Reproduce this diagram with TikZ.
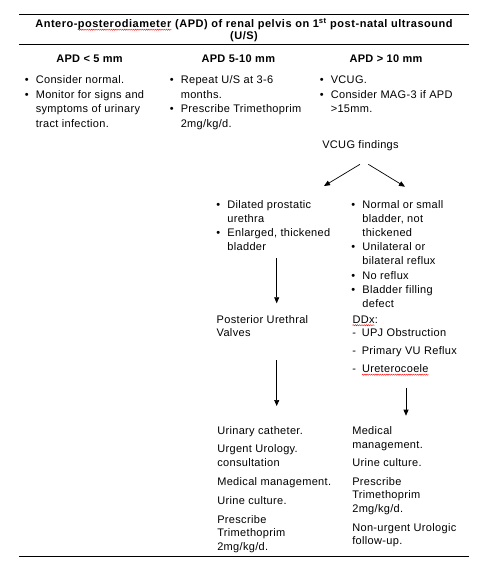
\documentclass[tikz,border=0pt]{standalone}
\usepackage{fontspec}
\usepackage{graphicx}
\setmainfont{Liberation Sans}[LetterSpace=3]
\usetikzlibrary{arrows.meta,decorations.pathmorphing}
\newcommand\bl{\makebox[11pt][l]{\textbullet}}
\newcommand\ind{\hspace*{11pt}}
\newcommand\dl{\makebox[9.5pt][l]{-}}
\newcommand\tb[1]{\begin{tabular}[t]{@{}l@{}}#1\end{tabular}}
\newcommand\tbc[1]{\begin{tabular}[t]{@{}c@{}}#1\end{tabular}}
\newcommand\sqg[1]{\tikz[baseline=(w.base)]{\node[inner sep=0pt,outer sep=0pt](w){#1};\draw[red,line width=0.4pt,decorate,decoration={snake,amplitude=0.6pt,segment length=2.2pt}] ([yshift=-2.2pt]w.base west)--([yshift=-2.2pt]w.base east);}}
\begin{document}
\begin{tikzpicture}[x=1pt,y=-1pt,
  txt/.style={inner sep=0pt,outer sep=0pt,font=\fontsize{11}{14.5}\selectfont},
  txtb/.style={inner sep=0pt,outer sep=0pt,font=\fontsize{11}{14.2}\selectfont},
  txtc/.style={inner sep=0pt,outer sep=0pt,font=\fontsize{11}{13.8}\selectfont},
  hd/.style={inner sep=0pt,outer sep=0pt,font=\bfseries\fontsize{11}{12}\selectfont},
  rulel/.style={line width=0.9pt},
  arr/.style={line width=0.7pt,-{Triangle[length=6pt,width=5pt]}}]
\useasboundingbox (0,0) rectangle (494,575);
% rules
\coordinate (r1a) at (19,14.3); \coordinate (r1b) at (469,14.3);
\coordinate (r2a) at (19,44.3); \coordinate (r2b) at (469,44.3);
\coordinate (r3a) at (19,556.7); \coordinate (r3b) at (468.5,556.7);
\draw[rulel] (r1a) -- (r1b);
\draw[rulel] (r2a) -- (r2b);
\draw[rulel] (r3a) -- (r3b);
% title
\node[hd,anchor=base,font=\bfseries\fontsize{11}{12}\selectfont\addfontfeatures{LetterSpace=4.8}] (title) at (244,27.5) {\tbc{Antero-\sqg{posterodiameter} (APD) of renal pelvis on 1\textsuperscript{st} post-natal ultrasound\\(U/S)}};
% headers
\node[hd,anchor=base] (h1) at (89.5,62.7) {APD < 5 mm};
\node[hd,anchor=base] (h2) at (238.3,62.7) {APD 5-10 mm};
\node[hd,anchor=base] (h3) at (386,62.7) {APD > 10 mm};
% column lists
\node[txt,anchor=base west] (c1) at (24.8,84) {\tb{\bl Consider normal.\\ \bl Monitor for signs and\\ \ind symptoms of urinary\\ \ind tract infection.}};
\node[txt,anchor=base west] (c2) at (169.8,84) {\tb{\bl Repeat U/S at 3-6\\ \ind months.\\ \bl Prescribe Trimethoprim\\ \ind 2mg/kg/d.}};
\node[txt,anchor=base west] (c3) at (319.8,84) {\tb{\bl VCUG.\\ \bl Consider MAG-3 if APD\\ \ind >15mm.}};
% VCUG findings
\node[txt,anchor=base west] (vf) at (322.3,148) {VCUG findings};
\coordinate (vfl) at (360,164.3); \coordinate (vl) at (324,186);
\coordinate (vfr) at (368.3,164.3); \coordinate (vr) at (405,186.7);
\draw[arr] (vfl) -- (vl);
\draw[arr] (vfr) -- (vr);
% findings
\node[txtb,anchor=base west] (fl) at (216.4,208) {\tb{\bl Dilated prostatic\\ \ind urethra\\ \bl Enlarged, thickened\\ \ind bladder}};
\node[txtb,anchor=base west] (fr) at (351.4,208) {\tb{\bl Normal or small\\ \ind bladder, not\\ \ind thickened\\ \bl Unilateral or\\ \ind bilateral reflux\\ \bl No reflux\\ \bl Bladder filling\\ \ind defect}};
\coordinate (al1a) at (276.7,258.3); \coordinate (al1b) at (276.7,303.3);
\draw[arr] (al1a) -- (al1b);
\node[txt,anchor=base west,font=\fontsize{11}{13}\selectfont] (puv) at (216.7,323.3) {\tb{Posterior Urethral\\Valves}};
\node[txt,anchor=base west] (ddx) at (352.3,323) {\tb{\sqg{DDx}:\\[-1pt] \dl UPJ Obstruction\\[3.5pt] \dl Primary VU Reflux\\[3.5pt] \dl \sqg{Ureterocoele}}};
\coordinate (al2a) at (276.7,360); \coordinate (al2b) at (276.7,406);
\draw[arr] (al2a) -- (al2b);
\coordinate (ara) at (406,388.3); \coordinate (arb) at (406,415.7);
\draw[arr] (ara) -- (arb);
% management
\node[txtc,anchor=base west] (ml) at (217.3,434) {\tb{Urinary catheter.\\[5pt] Urgent Urology.\\ consultation\\[5pt] Medical management.\\[5pt] Urine culture.\\[5pt] Prescribe\\ Trimethoprim\\ 2mg/kg/d.}};
\node[txtc,anchor=base west] (mr) at (352.3,434.7) {\tb{Medical\\ management.\\[4.5pt] Urine culture.\\[4.5pt] Prescribe\\ Trimethoprim\\ 2mg/kg/d.\\[4.5pt] Non-urgent Urologic\\ follow-up.}};
\end{tikzpicture}
\end{document}
